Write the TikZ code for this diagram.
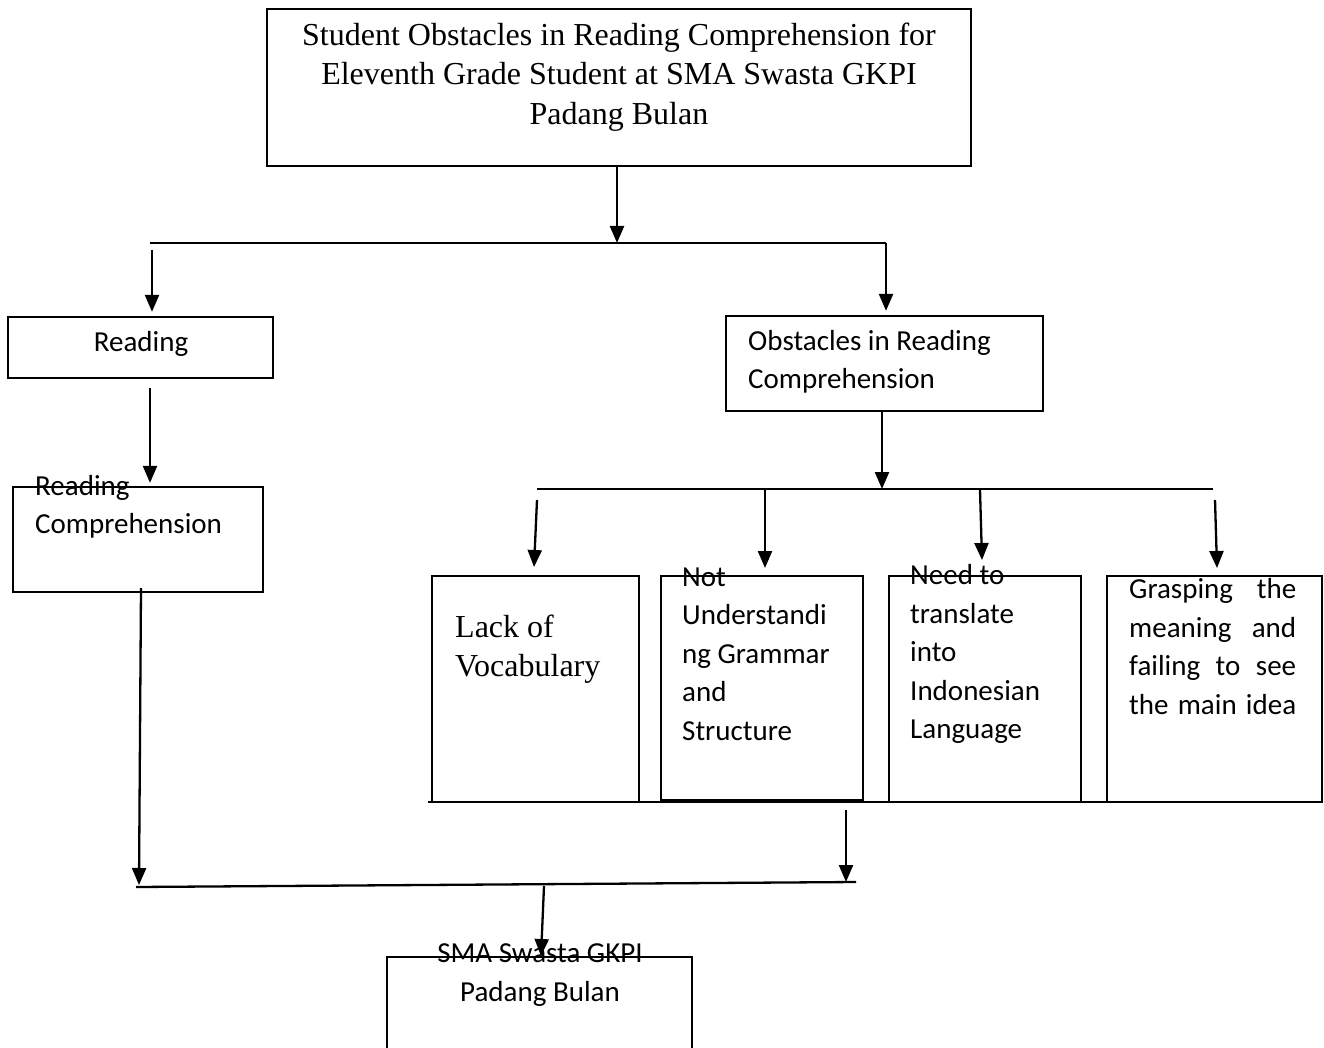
\documentclass[tikz,border=0pt]{standalone}
\usepackage{fontspec}
\setmainfont{Liberation Serif}
\newfontfamily\calibri{Carlito}
\usetikzlibrary{arrows.meta}
\begin{document}
\begin{tikzpicture}[x=1pt,y=-1pt,
  conn/.style={line width=2.3pt},
  arr/.style={line width=2.3pt,-{Triangle[width=14pt,length=17pt]}},
  box/.style={draw,line width=2.3pt,rectangle,inner sep=0pt},
  tms/.style={font=\fontsize{32}{39.5}\selectfont,inner sep=0pt},
  cal/.style={font=\calibri\fontsize{29}{38.5}\selectfont,inner sep=0pt}]
\useasboundingbox (0,0) rectangle (1324,1048);
\clip (0,0) rectangle (1324,1048);
% boxes
\node[box,minimum width=704pt,minimum height=157pt] (title) at (619,87.5) {};
\node[box,minimum width=265pt,minimum height=61pt] (reading) at (140.5,347.5) {};
\node[box,minimum width=250pt,minimum height=105pt] (rc) at (138,539.5) {};
\node[box,minimum width=317pt,minimum height=95pt] (obs) at (884.5,363.5) {};
\node[box,minimum width=207pt,minimum height=226pt] (lv) at (535.5,689) {};
\node[box,minimum width=202pt,minimum height=224pt] (nu) at (762,688) {};
\node[box,minimum width=192pt,minimum height=226pt] (nt) at (985,689) {};
\node[box,minimum width=215pt,minimum height=226pt] (gr) at (1214.5,689) {};
\node[box,minimum width=305pt,minimum height=113pt] (sma) at (539.5,1013.5) {};
% texts
\node[tms,align=center] (titletxt) at (619,77) {Student Obstacles in Reading Comprehension for\\Eleventh Grade Student at SMA Swasta GKPI\\Padang Bulan};
\node[cal] (readingtxt) at (141,344) {Reading};
\node[cal,align=left,anchor=west] (rctxt) at (35,507) {Reading\\Comprehension};
\node[cal,align=left,anchor=west] (obstxt) at (748,362) {Obstacles in Reading\\Comprehension};
\node[tms,align=left,anchor=west] (lvtxt) at (455,649) {Lack of\\Vocabulary};
\node[cal,align=left,anchor=west] (nutxt) at (682,654) {Not\\Understandi\\ng Grammar\\and\\Structure};
\node[cal,align=left,anchor=west] (nttxt) at (910,654) {Need to\\translate\\into\\Indonesian\\Language};
\node[cal,align=left,anchor=west] (grtxt) at (1129,646.5) {\makebox[167pt][s]{Grasping the}\\\makebox[167pt][s]{meaning and}\\\makebox[167pt][s]{failing to see}\\\makebox[167pt][s]{the main idea}};
\node[cal,align=center] (smatxt) at (540,975) {SMA Swasta GKPI\\Padang Bulan};
% bus coordinates
\coordinate (b1l) at (150,243);
\coordinate (b1r) at (886,243);
\coordinate (b1c) at (617,243);
\coordinate (aL) at (152,250);
\coordinate (aR) at (886,243);
\coordinate (a2s) at (150,388);
\coordinate (b2l) at (537,489);
\coordinate (b2r) at (1213,489);
\coordinate (b2c) at (882,489);
\coordinate (c1s) at (537,500);
\coordinate (c1e) at (534,567);
\coordinate (c2s) at (765,490);
\coordinate (c2e) at (765,568);
\coordinate (c3s) at (980,490);
\coordinate (c3e) at (982,560);
\coordinate (c4s) at (1215,500);
\coordinate (c4e) at (1217,568);
\coordinate (ul) at (428,802);
\coordinate (ur) at (1323,802);
\coordinate (b3l) at (136,887);
\coordinate (b3r) at (856,882);
\coordinate (dls) at (141,588);
\coordinate (dle) at (139,885);
\coordinate (drs) at (846,810);
\coordinate (dre) at (846,882);
\coordinate (dms) at (544,886);
\coordinate (dme) at (541,956);
% connectors
\draw[arr] (title.south -| b1c) -- (b1c);
\draw[conn] (b1l) -- (b1r);
\draw[arr] (aL) -- ([yshift=4pt]reading.north -| aL);
\draw[arr] (aR) -- ([yshift=4pt]obs.north -| aR);
\draw[arr] (a2s) -- ([yshift=3pt]rc.north -| a2s);
\draw[arr] (obs.south -| b2c) -- (b2c);
\draw[conn] (b2l) -- (b2r);
\draw[arr] (c1s) -- (c1e);
\draw[arr] (c2s) -- (c2e);
\draw[arr] (c3s) -- (c3e);
\draw[arr] (c4s) -- (c4e);
\draw[conn] (ul) -- (ur);
\draw[arr] (dls) -- (dle);
\draw[arr] (drs) -- (dre);
\draw[conn] (b3l) -- (b3r);
\draw[arr] (dms) -- (dme);
\end{tikzpicture}
\end{document}
